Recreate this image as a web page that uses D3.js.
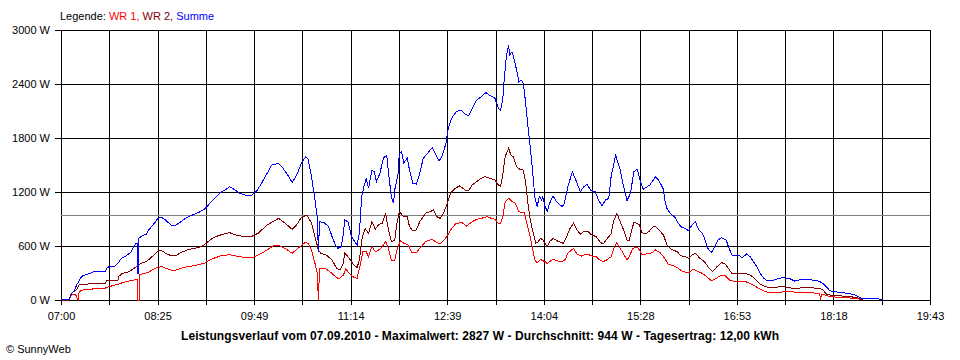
<!DOCTYPE html>
<html>
<head>
<meta charset="utf-8">
<script src="https://cdn.jsdelivr.net/npm/d3@7"></script>
<style>
  body { margin: 0; background: #fff; }
  svg { display: block; font-family: "Liberation Sans", Arial, sans-serif; font-size: 11px; }
</style>
</head>
<body>
<svg id="chart" width="960" height="360"></svg>
<script>
// tick labels (every second grid line gets a label)
const tickLabels = ["07:00", "08:25", "09:49", "11:14", "12:39", "14:04", "15:28", "16:53", "18:18", "19:43"];
const yTicks = [0, 600, 1200, 1800, 2400, 3000];
const avgW = 944;

// WR 1 (red), [time, watts]
const wr1 = [["07:00",0],["07:07",0],["07:09",56],["07:13",56],["07:15",0],["07:16",93],["07:19",111],["07:25",119],["07:31",126],["07:39",133],["07:42",148],["07:50",174],["07:54",193],["08:01",215],["08:06",226],["08:07",226],["08:07",0],["08:09",0],["08:09",278],["08:10",285],["08:16",304],["08:20",333],["08:25",363],["08:29",370],["08:32",352],["08:37",333],["08:41",333],["08:45",352],["08:51",370],["08:57",381],["09:01",396],["09:06",407],["09:08",426],["09:14",463],["09:20",489],["09:28",504],["09:37",481],["09:44",467],["09:49",474],["09:55",511],["10:01",556],["10:06",600],["10:12",604],["10:18",563],["10:23",519],["10:28",574],["10:34",637],["10:37",630],["10:40",556],["10:43",407],["10:45",296],["10:46",0],["10:47",352],["10:52",352],["10:56",315],["11:01",259],["11:04",233],["11:08",278],["11:10",345],["11:13",296],["11:17",252],["11:20",241],["11:23",407],["11:25",537],["11:28",537],["11:30",481],["11:33",593],["11:36",537],["11:39",556],["11:42",593],["11:45",648],["11:47",593],["11:50",444],["11:53",444],["11:55",556],["11:58",659],["12:01",630],["12:05",611],["12:08",526],["12:12",526],["12:15",574],["12:20",648],["12:26",674],["12:30",637],["12:33",622],["12:37",674],["12:40",733],["12:43",796],["12:47",852],["12:52",859],["12:56",822],["13:01",870],["13:05",896],["13:09",907],["13:14",926],["13:18",907],["13:21",896],["13:24",852],["13:26",852],["13:28",926],["13:30",1093],["13:33",1130],["13:36",1093],["13:39",1074],["13:42",981],["13:45",970],["13:47",970],["13:49",852],["13:52",704],["13:54",574],["13:56",444],["13:58",415],["14:01",452],["14:03",437],["14:05",426],["14:07",400],["14:09",426],["14:12",452],["14:15",437],["14:20",426],["14:23",452],["14:25",519],["14:30",574],["14:33",511],["14:37",489],["14:42",511],["14:46",489],["14:50",481],["14:53",444],["14:56",426],["14:59",444],["15:03",481],["15:06",593],["15:08",637],["15:11",574],["15:14",511],["15:17",444],["15:19",481],["15:22",574],["15:26",585],["15:28",556],["15:30",500],["15:34",511],["15:39",526],["15:42",556],["15:46",526],["15:50",463],["15:53",400],["15:58",381],["16:02",352],["16:06",315],["16:11",304],["16:15",341],["16:18",326],["16:23",296],["16:27",259],["16:31",215],["16:34",230],["16:39",270],["16:43",270],["16:47",222],["16:52",204],["16:56",200],["17:01",204],["17:05",185],["17:09",156],["17:14",119],["17:18",93],["17:24",81],["17:30",85],["17:37",93],["17:43",89],["17:49",85],["17:58",81],["18:04",74],["18:06",67],["18:07",19],["18:08",60],["18:11",56],["18:15",37],["18:24",30],["18:33",22],["18:40",15],["18:43",0]];

// WR 2 (dark red)
const wr2 = [["07:00",0],["07:07",0],["07:09",74],["07:14",119],["07:16",167],["07:22",174],["07:28",185],["07:39",185],["07:40",215],["07:45",222],["07:50",222],["07:51",267],["07:54",296],["08:00",315],["08:06",370],["08:10",407],["08:15",426],["08:19",470],["08:23",519],["08:26",548],["08:29",544],["08:32",519],["08:37",489],["08:41",493],["08:45",526],["08:51",556],["08:57",574],["09:01",585],["09:06",615],["09:08",637],["09:14",696],["09:20",722],["09:28",748],["09:34",722],["09:40",704],["09:47",704],["09:53",741],["10:01",833],["10:11",907],["10:17",852],["10:23",785],["10:28",852],["10:31",919],["10:36",944],["10:40",852],["10:43",704],["10:46",556],["10:48",519],["10:53",500],["10:58",444],["11:02",352],["11:05",333],["11:08",407],["11:09",526],["11:12",481],["11:17",389],["11:20",363],["11:22",444],["11:24",667],["11:27",796],["11:30",741],["11:33",870],["11:36",785],["11:39",841],["11:42",852],["11:45",963],["11:47",815],["11:50",648],["11:53",667],["11:55",852],["11:57",981],["12:01",926],["12:04",926],["12:06",815],["12:09",767],["12:12",778],["12:15",870],["12:20",963],["12:24",981],["12:27",1000],["12:30",926],["12:33",907],["12:36",970],["12:39",1067],["12:42",1185],["12:46",1241],["12:50",1267],["12:55",1222],["12:58",1215],["13:01",1278],["13:05",1315],["13:09",1352],["13:12",1370],["13:17",1352],["13:21",1333],["13:24",1278],["13:26",1259],["13:28",1407],["13:30",1593],["13:33",1685],["13:35",1611],["13:37",1593],["13:40",1481],["13:43",1452],["13:46",1444],["13:48",1296],["13:50",1074],["13:52",889],["13:55",722],["13:57",630],["13:59",648],["14:01",685],["14:03",667],["14:05",630],["14:07",593],["14:09",648],["14:12",685],["14:17",648],["14:21",630],["14:24",704],["14:27",796],["14:30",852],["14:33",778],["14:36",733],["14:40",767],["14:43",759],["14:46",722],["14:50",704],["14:53",648],["14:56",622],["14:59",674],["15:03",733],["15:05",870],["15:08",963],["15:11",870],["15:14",778],["15:17",667],["15:19",659],["15:21",778],["15:23",859],["15:26",852],["15:28",833],["15:30",748],["15:33",733],["15:36",759],["15:40",815],["15:42",815],["15:45",778],["15:49",722],["15:52",611],["15:56",563],["16:01",537],["16:04",493],["16:08",481],["16:11",463],["16:14",500],["16:17",519],["16:21",463],["16:25",426],["16:29",352],["16:32",315],["16:36",370],["16:40",415],["16:43",400],["16:46",352],["16:49",296],["16:53",289],["16:57",289],["17:00",296],["17:05",278],["17:09",241],["17:13",185],["17:17",156],["17:21",141],["17:27",141],["17:33",148],["17:40",137],["17:43",126],["17:49",133],["17:55",137],["18:01",133],["18:06",130],["18:09",111],["18:12",67],["18:15",56],["18:21",48],["18:30",41],["18:37",30],["18:42",15],["18:44",0]];

// Summe (blue)
const summe = [["07:00",0],["07:07",8],["07:08",37],["07:10",81],["07:12",111],["07:14",178],["07:15",193],["07:17",241],["07:19",267],["07:22",285],["07:26",296],["07:29",315],["07:39",315],["07:40",352],["07:42",370],["07:47",370],["07:50",407],["07:53",463],["07:57",489],["08:01",526],["08:03",574],["08:06",630],["08:07",630],["08:07",296],["08:08",296],["08:08",685],["08:11",711],["08:15",733],["08:17",778],["08:20",822],["08:23",870],["08:25",907],["08:28",919],["08:31",896],["08:34",863],["08:37",826],["08:40",826],["08:44",859],["08:48",896],["08:53",933],["08:57",952],["09:01",974],["09:06",1011],["09:08",1037],["09:14",1119],["09:20",1193],["09:24",1222],["09:28",1259],["09:33",1222],["09:37",1185],["09:43",1159],["09:47",1159],["09:52",1215],["09:56",1296],["10:01",1407],["10:05",1500],["10:11",1519],["10:15",1463],["10:20",1370],["10:23",1307],["10:27",1389],["10:31",1519],["10:35",1593],["10:37",1563],["10:40",1370],["10:43",1111],["10:45",926],["10:46",537],["10:47",870],["10:51",859],["10:55",815],["10:58",704],["11:01",611],["11:03",574],["11:06",593],["11:08",741],["11:09",889],["11:12",870],["11:15",704],["11:20",611],["11:22",741],["11:24",1148],["11:26",1259],["11:28",1352],["11:30",1241],["11:33",1444],["11:35",1426],["11:37",1315],["11:40",1407],["11:43",1574],["11:46",1611],["11:47",1481],["11:50",1148],["11:52",1074],["11:53",1222],["11:56",1407],["11:57",1630],["11:59",1648],["12:01",1526],["12:04",1574],["12:06",1444],["12:09",1296],["12:12",1289],["12:15",1407],["12:18",1574],["12:22",1630],["12:26",1696],["12:29",1622],["12:32",1544],["12:35",1611],["12:38",1741],["12:40",1907],["12:43",2019],["12:47",2093],["12:51",2111],["12:54",2074],["12:58",2044],["13:01",2130],["13:05",2222],["13:09",2259],["13:13",2304],["13:17",2270],["13:21",2241],["13:24",2130],["13:26",2104],["13:28",2248],["13:29",2426],["13:31",2704],["13:33",2827],["13:34",2722],["13:36",2759],["13:38",2667],["13:40",2556],["13:42",2426],["13:44",2444],["13:46",2407],["13:48",2185],["13:50",1926],["13:52",1704],["13:54",1444],["13:56",1148],["13:58",1037],["14:00",1148],["14:02",1111],["14:03",1148],["14:05",1037],["14:07",989],["14:09",1074],["14:12",1156],["14:15",1093],["14:20",1037],["14:22",1074],["14:25",1259],["14:29",1426],["14:32",1333],["14:36",1204],["14:39",1259],["14:42",1285],["14:45",1222],["14:49",1204],["14:52",1111],["14:55",1044],["14:58",1111],["15:01",1130],["15:03",1370],["15:07",1607],["15:11",1444],["15:14",1259],["15:17",1104],["15:20",1185],["15:23",1426],["15:26",1452],["15:28",1352],["15:31",1230],["15:34",1252],["15:37",1278],["15:40",1333],["15:42",1370],["15:45",1326],["15:49",1230],["15:50",1111],["15:52",1019],["15:55",963],["15:59",919],["16:02",852],["16:05",807],["16:08",796],["16:11",770],["16:14",833],["16:17",870],["16:20",778],["16:23",741],["16:25",685],["16:28",574],["16:31",526],["16:34",593],["16:37",667],["16:40",693],["16:44",667],["16:46",593],["16:49",500],["16:52",493],["16:55",500],["16:58",470],["17:02",511],["17:05",481],["17:08",426],["17:11",370],["17:14",296],["17:17",241],["17:20",215],["17:24",211],["17:27",226],["17:30",241],["17:34",248],["17:40",237],["17:44",211],["17:49",226],["17:55",230],["18:01",219],["18:06",207],["18:09",185],["18:12",148],["18:15",104],["18:18",93],["18:24",85],["18:30",74],["18:36",63],["18:40",37],["18:43",19],["18:50",15],["18:58",11],["19:01",0]];

const margin = {top: 30, right: 30, bottom: 60, left: 61};
const width = 960;
const height = 360;

var parseTime = d3.timeParse("%H:%M");

var x = d3.scaleTime()
    .domain([parseTime(tickLabels[0]), parseTime(tickLabels[tickLabels.length - 1])])
    .range([margin.left, width - margin.right]);

var y = d3.scaleLinear()
    .domain([0, 3000])
    .range([height - margin.bottom, margin.top]);

// 18 grid intervals, label on every second one
var t0 = x.domain()[0], t1 = x.domain()[1];
var gridTimes = d3.range(19).map(i => new Date(+t0 + i * (t1 - t0) / 18));

var svg = d3.select("#chart");

svg.append("g")
    .attr("transform", `translate(0,${height - margin.bottom})`)
    .attr("shape-rendering", "crispEdges")
    .call(d3.axisBottom(x)
        .tickValues(gridTimes)
        .tickSize(5)
        .tickPadding(7)
        .tickFormat((d, i) => i % 2 ? "" : tickLabels[i / 2]))
    .call(g => g.attr("font-size", null).attr("font-family", null))
    .call(g => g.select(".domain").remove())
    .call(g => g.selectAll(".tick line").clone()
        .attr("y2", -(height - margin.bottom - margin.top)));

svg.append("g")
    .attr("transform", `translate(${margin.left},0)`)
    .attr("shape-rendering", "crispEdges")
    .call(d3.axisLeft(y)
        .tickValues(yTicks)
        .tickSize(6)
        .tickPadding(5)
        .tickFormat(d => d + " W"))
    .call(g => g.attr("font-size", null).attr("font-family", null))
    .call(g => g.select(".domain").remove())
    .call(g => g.selectAll(".tick line").clone()
        .attr("x2", width - margin.left - margin.right));

// average line
svg.append("line")
    .attr("shape-rendering", "crispEdges")
    .attr("x1", margin.left)
    .attr("x2", width - margin.right)
    .attr("y1", Math.round(y(avgW)) + 0.5)
    .attr("y2", Math.round(y(avgW)) + 0.5)
    .attr("stroke", "#808080");

var line = d3.line()
    .x(d => x(parseTime(d[0])))
    .y(d => y(d[1]));

var series = [
    {data: wr1, color: "#ff0000"},
    {data: wr2, color: "#800000"},
    {data: summe, color: "#0000ff"}
];

svg.append("g")
    .attr("fill", "none")
    .attr("stroke-width", 1)
    .attr("shape-rendering", "crispEdges")
    .selectAll("path")
    .data(series)
    .join("path")
    .attr("stroke", d => d.color)
    .attr("d", d => line(d.data));

// legend
var legend = svg.append("text")
    .attr("x", 60)
    .attr("y", 20);
legend.append("tspan").attr("fill", "#000").text("Legende: ");
legend.append("tspan").attr("fill", "#ff0000").text("WR 1, ");
legend.append("tspan").attr("fill", "#800000").text("WR 2, ");
legend.append("tspan").attr("fill", "#0000ff").text("Summe");

svg.append("text")
    .attr("x", 480)
    .attr("y", 340)
    .attr("text-anchor", "middle")
    .attr("font-weight", "bold")
    .attr("font-size", 12)
    .attr("textLength", 598)
    .attr("lengthAdjust", "spacing")
    .text("Leistungsverlauf vom 07.09.2010 - Maximalwert: 2827 W - Durchschnitt: 944 W - Tagesertrag: 12,00 kWh");

svg.append("text")
    .attr("x", 6)
    .attr("y", 353)
    .text("© SunnyWeb");
</script>
</body>
</html>
